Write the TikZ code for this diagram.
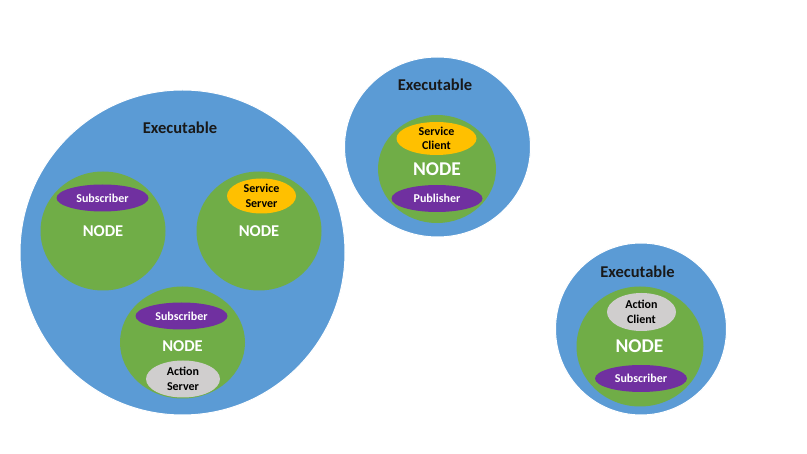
\documentclass[tikz,border=0pt]{standalone}
\usepackage{fontspec}
\setmainfont{Carlito}
\usetikzlibrary{shapes.geometric}
\definecolor{exeblue}{HTML}{5B9BD5}
\definecolor{nodegreen}{HTML}{70AD47}
\definecolor{subpurple}{HTML}{7030A0}
\definecolor{srvorange}{HTML}{FFC000}
\definecolor{actgray}{HTML}{D0CECE}
\tikzset{
	exe/.style={ellipse, fill=exeblue, draw=white, line width=1pt, inner sep=0pt},
	rosnode/.style={ellipse, fill=nodegreen, inner sep=0pt},
	pill/.style={ellipse, inner sep=0pt, align=center, font=\bfseries\fontsize{12}{14.5}\selectfont},
	subpill/.style={pill, fill=subpurple, text=white, minimum width=92pt, minimum height=27pt},
	srvpill/.style={pill, fill=srvorange, text=black},
	actpill/.style={pill, fill=actgray, text=black},
	exelabel/.style={font=\bfseries\fontsize{16.5}{18}\selectfont, text=black!90},
	nodelabel/.style={font=\bfseries\fontsize{16.5}{18}\selectfont, text=white},
	bignodelabel/.style={font=\bfseries\fontsize{19.5}{22}\selectfont, text=white}
}
\begin{document}
\begin{tikzpicture}[x=1pt, y=-1pt]
	\useasboundingbox[fill=white] (0, 0) rectangle (807, 454);
	% first executable, three nodes
	\node[exe, minimum width=325pt, minimum height=325pt] (exeA) at (182.5, 252.5) {};
	\node[exelabel] (exeAtext) at (180, 128) {Executable};
	\node[rosnode, minimum width=125pt, minimum height=119pt] (nodeA) at (103, 231) {};
	\node[subpill] (subA) at (102.5, 198) {Subscriber};
	\node[nodelabel] (nodeAtext) at (103, 231) {NODE};
	\node[rosnode, minimum width=125pt, minimum height=119pt] (nodeB) at (259, 231) {};
	\node[srvpill, minimum width=69pt, minimum height=35pt] (srvB) at (261.5, 196) {Service\\Server};
	\node[nodelabel] (nodeBtext) at (259, 231) {NODE};
	\node[rosnode, minimum width=125pt, minimum height=112pt] (nodeC) at (182.5, 342.5) {};
	\node[subpill] (subC) at (181.5, 316) {Subscriber};
	\node[nodelabel] (nodeCtext) at (182.5, 346) {NODE};
	\node[actpill, minimum width=74pt, minimum height=37pt] (actC) at (183, 379) {Action\\Server};
	% second executable
	\node[exe, minimum width=186pt, minimum height=180pt] (exeB) at (437.5, 147) {};
	\node[exelabel] (exeBtext) at (435, 85) {Executable};
	\node[rosnode, minimum width=118pt, minimum height=108pt] (nodeD) at (437, 169) {};
	\node[srvpill, minimum width=80pt, minimum height=33pt] (cliD) at (436.5, 138.5) {Service\\Client};
	\node[bignodelabel] (nodeDtext) at (437, 169.5) {NODE};
	\node[subpill, minimum width=91pt] (pubD) at (437, 198.5) {Publisher};
	% third executable
	\node[exe, minimum width=171pt, minimum height=172pt] (exeC) at (641, 329) {};
	\node[exelabel] (exeCtext) at (637.5, 271.5) {Executable};
	\node[rosnode, minimum width=127pt, minimum height=120pt] (nodeE) at (640, 346.5) {};
	\node[actpill, minimum width=69pt, minimum height=38pt] (actE) at (641.5, 312) {Action\\Client};
	\node[bignodelabel] (nodeEtext) at (639.5, 346.5) {NODE};
	\node[subpill] (subE) at (641, 378.5) {Subscriber};
\end{tikzpicture}
\end{document}
